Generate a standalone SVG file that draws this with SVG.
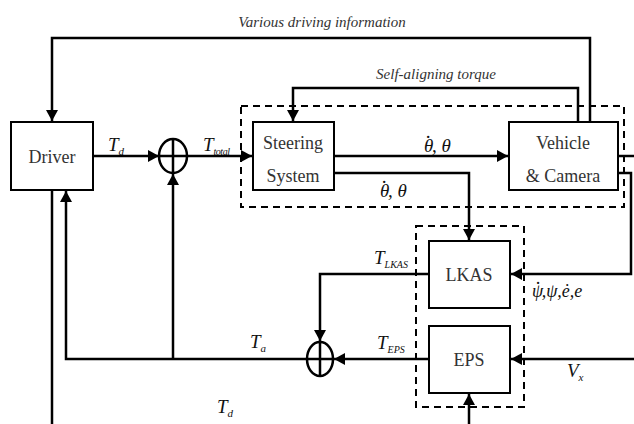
<svg xmlns="http://www.w3.org/2000/svg" width="634" height="424" viewBox="0 0 634 424">
<defs>
<marker id="ah" markerUnits="userSpaceOnUse" markerWidth="12" markerHeight="12" viewBox="0 0 12 12" refX="11" refY="6" orient="auto">
<path d="M0,0 L11,6 L0,12 Z" fill="#000"/>
</marker>
<style>
.box{fill:#fff;stroke:#000;stroke-width:2}
.dash{fill:none;stroke:#000;stroke-width:2;stroke-dasharray:7,5}
.ln{fill:none;stroke:#000;stroke-width:2.5}
.arr{fill:none;stroke:#000;stroke-width:2.5;marker-end:url(#ah)}
.sum{fill:#fff;stroke:#000;stroke-width:2.5}
text{font-family:"Liberation Serif","DejaVu Serif","Times New Roman",Times,serif}
</style>
</defs>
<g id="connectors">
<path class="arr" d="M590 122 V38 H52 V121"/>
<path class="arr" d="M578 122 V88 H293 V121"/>
<path class="arr" d="M93 156 H159"/>
<path class="arr" d="M187 156 H252"/>
<path class="arr" d="M334 156 H508"/>
<path class="arr" d="M334 173 H469 V240"/>
<path class="ln" d="M618 156 H634"/>
<path class="arr" d="M618 173 H631 V274 H511"/>
<path class="arr" d="M429 274 H320 V341"/>
<path class="arr" d="M634 359 H511"/>
<path class="arr" d="M429 359 H334"/>
<path class="arr" d="M307 359 H66 V191"/>
<path class="arr" d="M173 359 V174"/>
<path class="ln" d="M52 190 V424"/>
<path class="arr" d="M469 424 V394"/>
</g>
<g id="groups">
<rect class="dash" x="241" y="106" width="383" height="101"/>
<rect class="dash" x="416" y="226" width="108" height="181"/>
</g>
<g font-size="18" fill="#333" text-anchor="middle">
<g id="driver">
<rect class="box" x="11" y="122" width="82" height="68"/>
<text x="52" y="163">Driver</text>
</g>
<g id="steering">
<rect class="box" x="253" y="122" width="81" height="68"/>
<text x="293" y="149">Steering</text>
<text x="293" y="182">System</text>
</g>
<g id="vehicle">
<rect class="box" x="509" y="122" width="109" height="68"/>
<text x="563" y="149">Vehicle</text>
<text x="563" y="182">&amp; Camera</text>
</g>
<g id="lkas">
<rect class="box" x="429" y="241" width="81" height="67"/>
<text x="469" y="281">LKAS</text>
</g>
<g id="eps">
<rect class="box" x="429" y="326" width="81" height="67"/>
<text x="469" y="366">EPS</text>
</g>
</g>
<g id="sum1">
<ellipse class="sum" cx="173" cy="156" rx="14" ry="17"/>
<path class="ln" d="M159 156 H187 M173 139 V173"/>
</g>
<g id="sum2">
<ellipse class="sum" cx="320" cy="359" rx="13" ry="17"/>
<path class="ln" d="M307 359 H333 M320 342 V376"/>
</g>
<g id="labels" font-style="italic" fill="#111">
<text x="322" y="27" font-size="15" text-anchor="middle" fill="#333">Various driving information</text>
<text x="436" y="79" font-size="15" text-anchor="middle" fill="#333">Self-aligning torque</text>
<text x="108" y="151" font-size="19">T<tspan font-size="11" dy="4">d</tspan></text>
<text x="203" y="151" font-size="19">T<tspan font-size="10" dy="4" letter-spacing="-0.5">total</tspan></text>
<text x="424" y="152" font-size="19">θ<tspan dx="-7" dy="-14">.</tspan><tspan dx="1" dy="14">, θ</tspan></text>
<text x="380" y="197" font-size="19">θ<tspan dx="-7" dy="-14">.</tspan><tspan dx="1" dy="14">, θ</tspan></text>
<text x="532" y="297" font-size="18">ψ<tspan dx="-7" dy="-13">.</tspan><tspan dx="1" dy="13">,ψ,ė,e</tspan></text>
<text x="567" y="377" font-size="19">V<tspan font-size="11" dy="4">x</tspan></text>
<text x="250" y="348" font-size="19">T<tspan font-size="11" dy="4">a</tspan></text>
<text x="217" y="413" font-size="19">T<tspan font-size="11" dy="4">d</tspan></text>
<text x="374" y="264" font-size="19">T<tspan font-size="10" dy="4">LKAS</tspan></text>
<text x="377" y="349" font-size="19">T<tspan font-size="10" dy="4">EPS</tspan></text>
</g>
</svg>
